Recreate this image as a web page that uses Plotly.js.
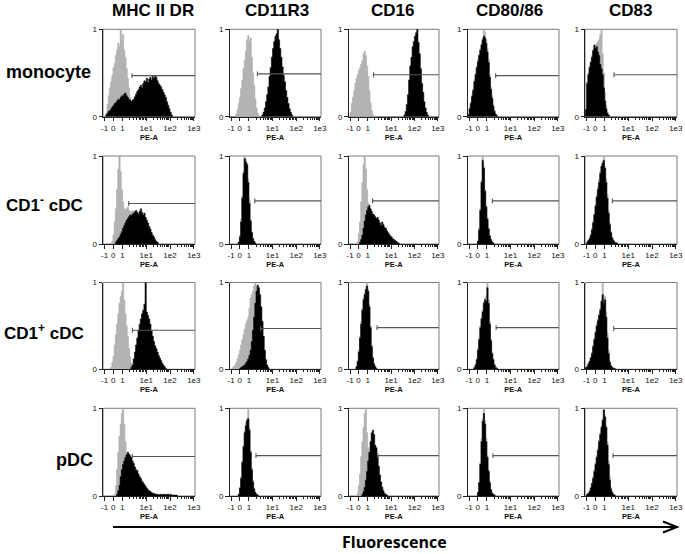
<!DOCTYPE html>
<html>
<head>
<meta charset="utf-8">
<script src="https://cdn.plot.ly/plotly-3.0.1.min.js"></script>
<style>html,body{margin:0;padding:0;background:#fff;}#chart{width:685px;height:554px;}</style>
</head>
<body>
<div id="chart"></div>
<script>
// ---------- categories and labels ----------
const cellTypes = ['monocyte', 'CD1<sup>-</sup> cDC', 'CD1<sup>+</sup> cDC', 'pDC'];
const markers = ['MHC II DR', 'CD11R3', 'CD16', 'CD80/86', 'CD83'];
const tickLabels = ['-1', '0', '1', '1e1', '1e2', '1e3'];
const tickPos = [-0.75, -0.39, 0, 1, 2, 3];   // display-scale position of each label
const binWidth = 0.05;                        // bin width on display scale

// ---------- histogram start positions (display scale) ----------
const isoStart = [
  [-0.70, -0.55, -0.75, -0.80, -0.80],
  [-0.45, -0.45, -0.45, -0.40, -0.75],
  [-0.50, -0.70, -0.50, -0.55, -0.80],
  [-0.35, -0.45, -0.45, -0.40, -0.75]
];
const abStart = [
  [-0.70, 0.55, 1.55, -0.80, -0.80],
  [-0.30, -0.45, -0.35, -0.40, -0.75],
  [0.35, -0.40, -0.50, -0.55, -0.80],
  [-0.25, -0.45, -0.25, -0.40, -0.75]
];
// gate marker: left end (display scale) and height (normalised count)
const gateStart = [
  [0.40, 0.36, 0.25, 0.37, 0.40],
  [0.26, 0.25, 0.21, 0.23, 0.33],
  [0.42, 0.50, 0.40, 0.39, 0.39],
  [0.41, 0.30, 0.43, 0.26, 0.36]
];
const gateY = [
  [0.47, 0.49, 0.48, 0.47, 0.48],
  [0.46, 0.49, 0.49, 0.49, 0.49],
  [0.45, 0.47, 0.48, 0.48, 0.47],
  [0.45, 0.46, 0.46, 0.46, 0.46]
];

// ---------- histogram heights (% of max), isotype (grey) and antibody (black) ----------
// monocyte
const mono_MHC_iso  = [4,14,24,33,40,47,56,61,70,76,84,80,100,88,94,76,68,55,44,33,22,14,8,4,1];
const mono_MHC_ab   = [2,4,6,7,9,11,13,15,16,18,20,19,22,24,23,26,27,24,22,20,19,17,19,20,23,26,29,31,34,36,33,38,41,40,44,39,43,45,42,46,44,47,45,41,38,36,34,31,28,25,22,17,13,9,5,2];
const mono_CD11_iso = [3,8,15,22,32,42,55,64,75,88,93,86,90,68,50,36,20,10,4,1];
const mono_CD11_ab  = [2,5,10,17,25,34,46,56,68,78,86,92,95,100,88,78,68,57,47,40,30,22,15,9,5,2];
const mono_CD16_iso = [5,15,22,30,38,44,48,53,56,60,64,72,75,70,58,46,30,16,7,2];
const mono_CD16_ab  = [2,6,14,25,42,58,68,80,86,92,96,100,85,72,55,38,28,17,10,5,2];
const mono_CD80_iso = [3,10,17,25,32,42,50,58,66,72,78,84,90,100,96,88,78,66,48,34,24,14,7,3,1];
const mono_CD80_ab  = [2,9,15,23,30,40,48,56,63,70,76,82,88,92,90,84,74,62,45,31,21,12,6,3,1];
const mono_CD83_iso = [10,40,50,58,64,70,74,78,82,84,86,88,94,100,72,50,28,13,6,2];
const mono_CD83_ab  = [8,38,48,56,62,68,76,82,78,80,74,70,60,55,48,33,18,9,4,2];
// CD1- cDC
const cd1n_MHC_iso  = [3,10,25,40,62,85,100,82,62,48,40,38,40,42,38,36,37,38,36,30,24,18,12,7,4,2];
const cd1n_MHC_ab   = [2,4,6,8,11,14,18,21,24,27,29,31,33,32,34,35,37,38,36,34,37,40,36,33,35,30,27,24,20,17,13,10,8,5,3,2];
const cd1n_CD11_iso = [3,10,28,55,82,100,96,92,74,50,28,14,7,3,1];
const cd1n_CD11_ab  = [2,8,25,52,80,97,93,90,70,46,26,13,6,3,1];
const cd1n_CD16_iso = [3,12,25,48,70,90,100,85,62,46,40,38,34,30,24,18,12,8,4,2];
const cd1n_CD16_ab  = [2,5,10,18,26,33,38,42,44,40,37,34,33,31,29,30,27,24,21,25,22,19,18,15,13,11,9,8,6,5,4,3,2,1];
const cd1n_CD80_iso = [4,18,40,72,100,88,62,44,30,18,10,5,3,1];
const cd1n_CD80_ab  = [3,16,38,70,95,86,60,42,28,17,9,5,2,1];
const cd1n_CD83_iso = [2,4,7,11,18,26,35,45,55,65,73,82,90,94,100,88,74,56,38,24,14,8,5,3,2,1];
const cd1n_CD83_ab  = [2,4,6,10,16,24,33,43,53,62,70,80,88,92,95,86,70,52,35,22,13,7,4,2,1,1];
// CD1+ cDC
const cd1p_MHC_iso  = [2,8,15,28,40,52,64,76,84,90,100,80,64,50,38,24,14,7,3,1];
const cd1p_MHC_ab   = [2,5,12,20,28,36,45,52,58,64,68,75,100,66,62,58,52,44,38,32,27,24,20,16,13,10,7,5,3,1];
const cd1p_CD11_iso = [2,3,5,8,12,17,22,28,34,40,46,52,56,60,70,82,86,90,96,100,95,90,80,60,42,28,16,8,3,1];
const cd1p_CD11_ab  = [1,2,3,4,5,7,9,12,16,22,32,45,60,76,90,97,94,86,72,55,38,22,11,5,2];
const cd1p_CD16_iso = [3,10,22,38,55,70,82,88,95,100,92,75,50,28,14,7,3,1];
const cd1p_CD16_ab  = [3,9,20,36,52,68,80,86,92,96,90,72,48,26,13,6,3,1];
const cd1p_CD80_iso = [2,6,12,24,36,50,60,68,78,82,85,100,80,55,35,20,12,6,3,1];
const cd1p_CD80_ab  = [2,5,11,22,34,48,58,66,76,80,78,94,76,52,33,18,11,5,2,1];
const cd1p_CD83_iso = [2,4,7,10,14,20,28,36,44,52,58,64,70,80,100,82,84,66,42,22,10,5,3,2,1];
const cd1p_CD83_ab  = [2,3,6,9,13,18,26,34,42,50,56,62,68,78,86,76,80,60,36,18,8,4,2,1,1];
// pDC
const pdc_MHC_iso   = [2,12,30,50,68,82,94,100,82,62,48,40,34,28,22,16,10,6,3,1];
const pdc_MHC_ab    = [2,6,12,22,30,36,40,44,47,50,48,46,44,40,37,33,30,29,25,22,20,17,15,13,11,9,7,6,5,4,3,3,2,2,2,1,2,2,1,2,2,1,2,2,1,2,1,1,1,1,1];
const pdc_CD11_iso  = [2,10,22,40,58,74,84,88,100,78,52,32,18,9,4,2,1];
const pdc_CD11_ab   = [2,9,20,38,56,72,80,86,88,75,50,30,16,8,4,2,1];
const pdc_CD16_iso  = [3,12,25,45,62,78,94,100,72,55,45,40,32,22,14,8,4,2];
const pdc_CD16_ab   = [2,5,10,18,28,40,50,62,72,75,70,58,55,45,34,24,16,10,6,3,2,1];
const pdc_CD80_iso  = [4,16,38,65,88,100,86,66,46,30,17,8,4,2,1];
const pdc_CD80_ab   = [4,15,36,62,85,94,82,62,44,28,15,7,3,2,1];
const pdc_CD83_iso  = [2,3,6,10,15,22,30,38,46,55,64,72,80,88,100,92,80,62,40,22,10,5,2,1];
const pdc_CD83_ab   = [2,3,5,9,14,20,28,36,44,52,62,70,78,86,98,90,78,58,36,18,8,4,2,1];

const isoVals = [
  [mono_MHC_iso, mono_CD11_iso, mono_CD16_iso, mono_CD80_iso, mono_CD83_iso],
  [cd1n_MHC_iso, cd1n_CD11_iso, cd1n_CD16_iso, cd1n_CD80_iso, cd1n_CD83_iso],
  [cd1p_MHC_iso, cd1p_CD11_iso, cd1p_CD16_iso, cd1p_CD80_iso, cd1p_CD83_iso],
  [pdc_MHC_iso,  pdc_CD11_iso,  pdc_CD16_iso,  pdc_CD80_iso,  pdc_CD83_iso]
];
const abVals = [
  [mono_MHC_ab, mono_CD11_ab, mono_CD16_ab, mono_CD80_ab, mono_CD83_ab],
  [cd1n_MHC_ab, cd1n_CD11_ab, cd1n_CD16_ab, cd1n_CD80_ab, cd1n_CD83_ab],
  [cd1p_MHC_ab, cd1p_CD11_ab, cd1p_CD16_ab, cd1p_CD80_ab, cd1p_CD83_ab],
  [pdc_MHC_ab,  pdc_CD11_ab,  pdc_CD16_ab,  pdc_CD80_ab,  pdc_CD83_ab]
];

// ---------- layout geometry (pixels) ----------
const W = 685, H = 554;
const colL = [103, 229.5, 348.5, 467.5, 585];
const colR = [195, 321, 439, 559, 677];
const rowT = [29.3, 156, 282.5, 408.3];
const rowB = [116.7, 244, 369.3, 496];
const xRange = [-0.82, 3.05];
const FONT = 'Liberation Sans, Arial, sans-serif';

function steps(start, vals) {
  const xs = [start], ys = [0];
  vals.forEach((v, i) => { xs.push(start + i * binWidth); ys.push(v / 100); });
  xs.push(start + vals.length * binWidth); ys.push(0);
  return {xs, ys};
}

const minorVals = [];
[0, 1, 2].forEach(d => { for (let k = 2; k <= 9; k++) minorVals.push(d + Math.log10(k)); });

const traces = [];
const layout = {
  width: W, height: H,
  margin: {l: 0, r: 0, t: 0, b: 0},
  paper_bgcolor: '#fff', plot_bgcolor: '#fff',
  showlegend: false,
  font: {family: FONT, color: '#000'},
  shapes: [], annotations: []
};

for (let r = 0; r < 4; r++) {
  for (let c = 0; c < 5; c++) {
    const k = r * 5 + c + 1;
    const xa = k === 1 ? 'x' : 'x' + k;
    const ya = k === 1 ? 'y' : 'y' + k;
    const iso = steps(isoStart[r][c], isoVals[r][c]);
    const ab = steps(abStart[r][c], abVals[r][c]);
    traces.push({x: iso.xs, y: iso.ys, xaxis: xa, yaxis: ya, type: 'scatter', mode: 'lines',
      line: {shape: 'hv', width: 0.6, color: '#a8a8a8'}, fill: 'tozeroy', fillcolor: '#b3b3b3', hoverinfo: 'skip'});
    traces.push({x: ab.xs, y: ab.ys, xaxis: xa, yaxis: ya, type: 'scatter', mode: 'lines',
      line: {shape: 'hv', width: 0.6, color: '#000'}, fill: 'tozeroy', fillcolor: '#000', hoverinfo: 'skip'});
    const g = gateStart[r][c], gy = gateY[r][c];
    traces.push({x: [g, g, null, g, xRange[1]], y: [gy - 0.028, gy + 0.028, null, gy, gy],
      xaxis: xa, yaxis: ya, type: 'scatter', mode: 'lines',
      line: {width: 1.1, color: '#555'}, hoverinfo: 'skip'});

    const xKey = k === 1 ? 'xaxis' : 'xaxis' + k;
    const yKey = k === 1 ? 'yaxis' : 'yaxis' + k;
    layout[xKey] = {
      domain: [colL[c] / W, colR[c] / W], anchor: ya, range: xRange,
      showgrid: false, zeroline: false, showline: true, linecolor: '#222', linewidth: 1,
      tickmode: 'array', tickvals: tickPos, ticktext: tickLabels,
      ticks: 'outside', ticklen: 3.5, tickwidth: 1, tickcolor: '#222',
      tickfont: {size: 8, family: FONT, color: '#111'},
      minor: {tickmode: 'array', tickvals: minorVals, ticks: 'outside', ticklen: 2, tickcolor: '#222', showgrid: false},
      title: {text: '<b>PE-A</b>', font: {size: 7.5, family: FONT, color: '#111'}, standoff: 1},
      fixedrange: true
    };
    layout[yKey] = {
      domain: [1 - rowB[r] / H, 1 - rowT[r] / H], anchor: xa, range: [0, 1],
      showgrid: false, zeroline: false, showline: true, linecolor: '#222', linewidth: 1,
      tickmode: 'array', tickvals: [0, 1], ticktext: ['0', '1'],
      ticks: 'outside', ticklen: 3.5, tickcolor: '#222',
      tickfont: {size: 8, family: FONT, color: '#111'}, fixedrange: true
    };
    layout.shapes.push({type: 'rect', xref: xa + ' domain', yref: ya + ' domain',
      x0: 0, x1: 1, y0: 0, y1: 1, line: {color: '#7a7a7a', width: 1}, layer: 'below'});
  }
}

// column titles
const colTitleX = [152.5, 276.5, 392.5, 509.5, 630];
markers.forEach((m, i) => layout.annotations.push({
  text: '<b>' + m + '</b>', xref: 'paper', yref: 'paper', x: colTitleX[i] / W, y: 1 - 11 / H,
  xanchor: 'center', yanchor: 'middle', showarrow: false,
  font: {size: 17, family: FONT, color: '#000'}
}));
// row labels
const rowLabelX = [4, 4, 2, 54];
const rowLabelY = [72, 204, 332, 460];
const rowLabelSize = [18, 17, 17, 18];
cellTypes.forEach((t, i) => layout.annotations.push({
  text: '<b>' + t + '</b>', xref: 'paper', yref: 'paper', x: rowLabelX[i] / W, y: 1 - rowLabelY[i] / H,
  xanchor: 'left', yanchor: 'middle', showarrow: false,
  font: {size: rowLabelSize[i], family: FONT, color: '#000'}
}));
// fluorescence arrow + label
const ay = 1 - 527 / H;
layout.shapes.push({type: 'line', xref: 'paper', yref: 'paper', x0: 113 / W, x1: 676 / W, y0: ay, y1: ay,
  line: {color: '#000', width: 2}});
layout.shapes.push({type: 'path', xref: 'paper', yref: 'paper',
  path: `M ${663 / W} ${1 - 521.5 / H} L ${677 / W} ${ay} L ${663 / W} ${1 - 532.5 / H}`,
  line: {color: '#000', width: 2}});
layout.annotations.push({text: '<b>Fluorescence</b>', xref: 'paper', yref: 'paper',
  x: 394 / W, y: 1 - 542 / H, xanchor: 'center', yanchor: 'middle', showarrow: false,
  font: {size: 16, family: 'Open Sans, Lato, sans-serif', color: '#000'}});

Plotly.newPlot('chart', traces, layout, {staticPlot: true, displayModeBar: false});
</script>
</body>
</html>
